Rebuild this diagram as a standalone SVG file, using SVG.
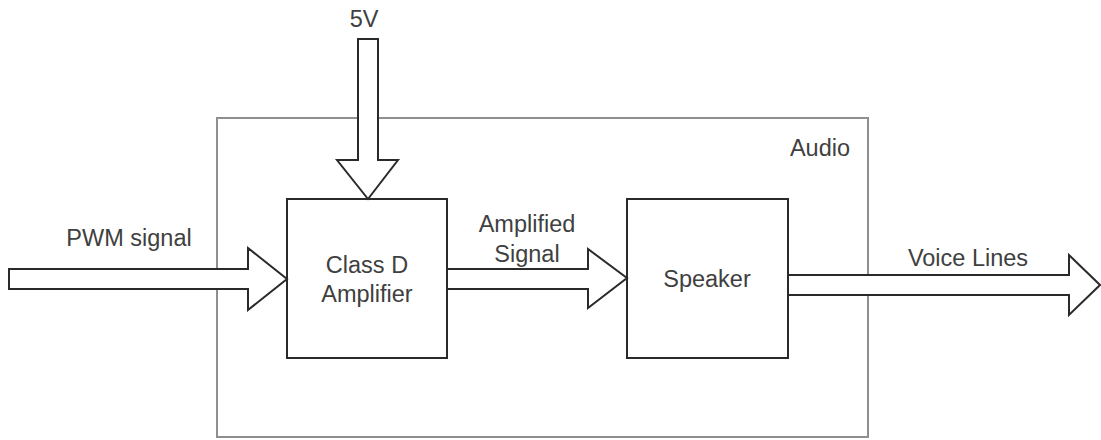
<svg xmlns="http://www.w3.org/2000/svg" width="1101" height="440" viewBox="0 0 1101 440">
<style>
.t{font-family:"Liberation Sans",Arial,sans-serif;font-size:23.5px;fill:#404040;text-anchor:middle}
.box{fill:#fff;stroke:#2a2a2a;stroke-width:2}
.cont{fill:#fff;stroke:#8f8f8f;stroke-width:2}
.arr{fill:#fff;stroke:#2a2a2a;stroke-width:2;stroke-linejoin:miter}
</style>
<rect width="1101" height="440" fill="#fff"/>
<g id="audio">
<rect class="cont" x="217" y="118" width="651" height="319"/>
<text class="t" x="820" y="156">Audio</text>
</g>
<g id="classd">
<rect class="box" x="287" y="199" width="160" height="159"/>
<text class="t" x="367" y="273">Class D</text>
<text class="t" x="367" y="302">Amplifier</text>
</g>
<g id="speaker">
<rect class="box" x="627" y="199" width="161" height="159"/>
<text class="t" x="707" y="287">Speaker</text>
</g>
<g id="connectors">
<path class="arr" d="M9,269 L248,269 L248,248 L287,279 L248,310 L248,289 L9,289 Z"/>
<text class="t" x="129" y="246">PWM signal</text>
<path class="arr" d="M358,39 L378,39 L378,160 L398,160 L368,199 L337,160 L358,160 Z"/>
<text class="t" x="364" y="27">5V</text>
<path class="arr" d="M447,269 L588,269 L588,249 L627,278 L588,308 L588,289 L447,289 Z"/>
<text class="t" x="527" y="232">Amplified</text>
<text class="t" x="527" y="262">Signal</text>
<path class="arr" d="M788,275 L1069,275 L1069,255 L1100,285 L1069,315 L1069,295 L788,295 Z"/>
<text class="t" x="968" y="266">Voice Lines</text>
</g>
</svg>
